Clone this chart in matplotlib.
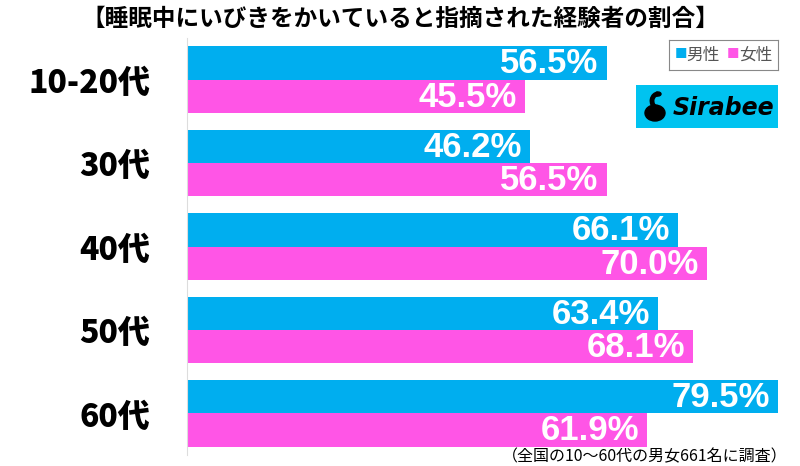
import matplotlib.pyplot as plt
from matplotlib.patches import Ellipse, Arc
import numpy as np

plt.rcParams['font.family'] = ['Noto Sans CJK JP', 'DejaVu Sans']

categories = ['10-20代', '30代', '40代', '50代', '60代']
male = [56.5, 46.2, 66.1, 63.4, 79.5]
female = [45.5, 56.5, 70.0, 68.1, 61.9]

BLUE = '#00AEEF'
PINK = '#FF55E6'

fig = plt.figure(figsize=(8, 4.66), dpi=100)
ax = fig.add_axes([187 / 800, 1 - 455 / 466, 613 / 800, (455 - 38) / 466])

y = np.arange(len(categories))
h = 0.4
ax.barh(y - h / 2, male, height=h, color=BLUE)
ax.barh(y + h / 2, female, height=h, color=PINK)

# value labels inside the bar ends
for i in range(len(categories)):
    ax.text(male[i] - 1.1, y[i] - h / 2 + 0.01, f'{male[i]:.1f}%', ha='right', va='center',
            color='white', fontsize=25, fontweight='bold', family='Liberation Sans')
    ax.text(female[i] - 1.1, y[i] + h / 2 + 0.01, f'{female[i]:.1f}%', ha='right', va='center',
            color='white', fontsize=25, fontweight='bold', family='Liberation Sans')

ax.set_xlim(0, 82.5)
ax.set_ylim(len(categories) - 0.5, -0.5)
ax.set_yticks(y)
ax.set_yticklabels(categories, fontsize=23, fontweight='heavy')
ax.tick_params(left=False, bottom=False, labelbottom=False, pad=23)
for s in ['top', 'right', 'bottom']:
    ax.spines[s].set_visible(False)
ax.spines['left'].set_color('#dddddd')

fig.text(0.5, 1 - 19 / 466, '【睡眠中にいびきをかいていると指摘された経験者の割合】',
         ha='center', va='center', fontsize=17, fontweight='bold')
fig.text(0.985, 1 - 457 / 466, '（全国の10～60代の男女661名に調査）',
         ha='right', va='center', fontsize=11.5)

# legend
lg = fig.add_axes([669 / 800, 1 - 70 / 466, 109 / 800, 30 / 466])
lg.set_xticks([]); lg.set_yticks([])
for s in lg.spines.values():
    s.set_color('#888888')
lg.text(0.05, 0.5, '■', color=BLUE, fontsize=9, va='center', transform=lg.transAxes)
lg.text(0.16, 0.48, '男性', color='#555555', fontsize=12, va='center', transform=lg.transAxes)
lg.text(0.53, 0.5, '■', color=PINK, fontsize=9, va='center', transform=lg.transAxes)
lg.text(0.64, 0.48, '女性', color='#555555', fontsize=12, va='center', transform=lg.transAxes)

# logo
lo = fig.add_axes([636 / 800, 1 - 128 / 466, 142 / 800, 43 / 466])
lo.set_facecolor('#00C3F0')
lo.set_xlim(0, 142); lo.set_ylim(0, 43)
lo.set_xticks([]); lo.set_yticks([])
for s in lo.spines.values():
    s.set_visible(False)
lo.text(87, 20, 'Sirabee', ha='center', va='center', fontsize=17, fontweight='heavy',
        style='italic', color='black', family='DejaVu Sans')
lo.add_patch(Ellipse((19, 15), 20, 16, color='black'))
lo.add_patch(Arc((22, 27), 12, 14, theta1=90, theta2=250, color='black', lw=3.5))
lo.add_patch(Ellipse((22, 34), 6, 4, color='black'))

fig.savefig('out.png', dpi=100)
